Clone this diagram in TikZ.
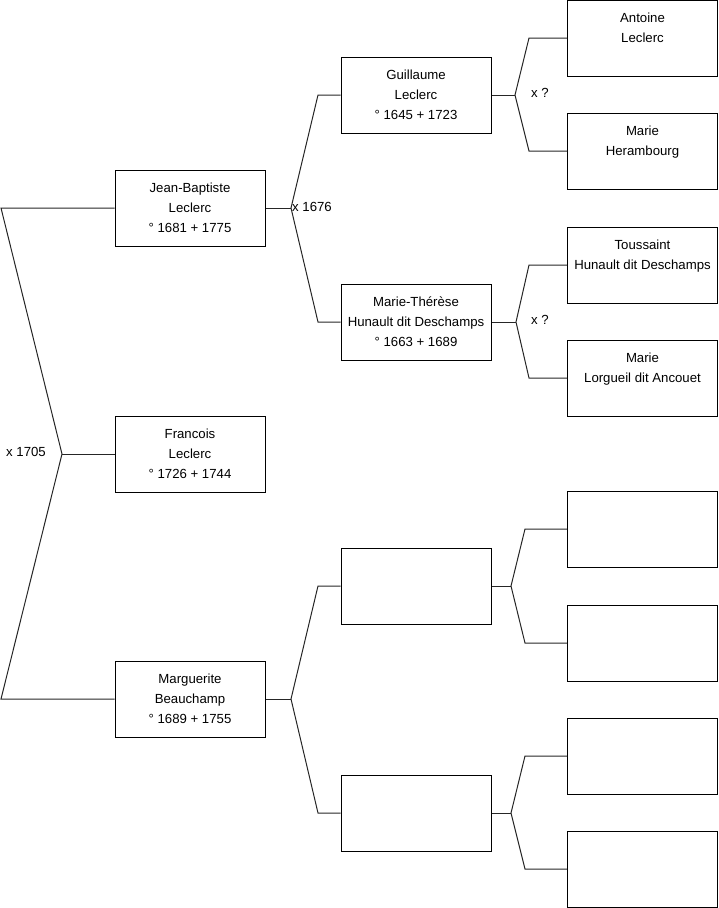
\documentclass[tikz,border=0pt]{standalone}
\usepackage{fontspec}
\setmainfont{Liberation Sans}
\begin{document}
\begin{tikzpicture}[x=1pt,y=-1pt,
  person/.style={draw=black,line width=1pt,minimum width=150pt,minimum height=76pt,inner sep=0pt,align=center,font=\fontsize{13.2}{20}\selectfont},
  link/.style={draw=black!85,line width=1pt},
  lbl/.style={font=\fontsize{13.2}{14}\selectfont,inner sep=0pt}]
\useasboundingbox (0,0) rectangle (719,908);
% generation 1
\node[person] (jb) at (190,208) {Jean-Baptiste\\Leclerc\\° 1681 + 1775};
\node[person] (fr) at (190,454) {Francois\\Leclerc\\° 1726 + 1744};
\node[person] (mg) at (190,699) {Marguerite\\Beauchamp\\° 1689 + 1755};
% generation 2
\node[person] (gl) at (416,95) {Guillaume\\Leclerc\\° 1645 + 1723};
\node[person] (mt) at (416,322) {Marie-Thérèse\\Hunault dit Deschamps\\° 1663 + 1689};
\node[person] (e1) at (416,586) {};
\node[person] (e2) at (416,813) {};
% generation 3
\node[person] (an) at (642.5,38) {Antoine\\Leclerc\\\mbox{}};
\node[person] (mh) at (642.5,151) {Marie\\Herambourg\\\mbox{}};
\node[person] (ts) at (642.5,265) {Toussaint\\Hunault dit Deschamps\\\mbox{}};
\node[person] (ml) at (642.5,378) {Marie\\Lorgueil dit Ancouet\\\mbox{}};
\node[person] (r5) at (642.5,529) {};
\node[person] (r6) at (642.5,643) {};
\node[person] (r7) at (642.5,756) {};
\node[person] (r8) at (642.5,869) {};
% bracket coordinates
\coordinate (a1) at (1,208);
\coordinate (a0) at (62,454);
\coordinate (a2) at (1,699);
\coordinate (b0) at (291,208);
\coordinate (b1) at (318,95);
\coordinate (b2) at (318,322);
\coordinate (c0) at (515,95);
\coordinate (c1) at (529,38);
\coordinate (c2) at (529,151);
\coordinate (d0) at (516,322);
\coordinate (d1) at (529,265);
\coordinate (d2) at (529,378);
\coordinate (f0) at (291,699);
\coordinate (f1) at (318,586);
\coordinate (f2) at (318,813);
\coordinate (g0) at (511,586);
\coordinate (g1) at (525,529);
\coordinate (g2) at (525,643);
\coordinate (h0) at (511,813);
\coordinate (h1) at (525,756);
\coordinate (h2) at (525,869);
% connectors
\draw[link] (jb.west) -- (a1) -- (a0) -- (a2) -- (mg.west);
\draw[link] (a0) -- (fr.west);
\draw[link] (jb.east) -- (b0);
\draw[link] (gl.west) -- (b1) -- (b0) -- (b2) -- (mt.west);
\draw[link] (gl.east) -- (c0);
\draw[link] (an.west) -- (c1) -- (c0) -- (c2) -- (mh.west);
\draw[link] (mt.east) -- (d0);
\draw[link] (ts.west) -- (d1) -- (d0) -- (d2) -- (ml.west);
\draw[link] (mg.east) -- (f0);
\draw[link] (e1.west) -- (f1) -- (f0) -- (f2) -- (e2.west);
\draw[link] (e1.east) -- (g0);
\draw[link] (r5.west) -- (g1) -- (g0) -- (g2) -- (r6.west);
\draw[link] (e2.east) -- (h0);
\draw[link] (r7.west) -- (h1) -- (h0) -- (h2) -- (r8.west);
% marriage labels
\node[lbl] (m1) at (26,452) {x 1705};
\node[lbl,anchor=west] (m2) at (292,207) {x 1676};
\node[lbl,anchor=west] (m3) at (531,93) {x ?};
\node[lbl,anchor=west] (m4) at (531,320) {x ?};
\end{tikzpicture}
\end{document}
